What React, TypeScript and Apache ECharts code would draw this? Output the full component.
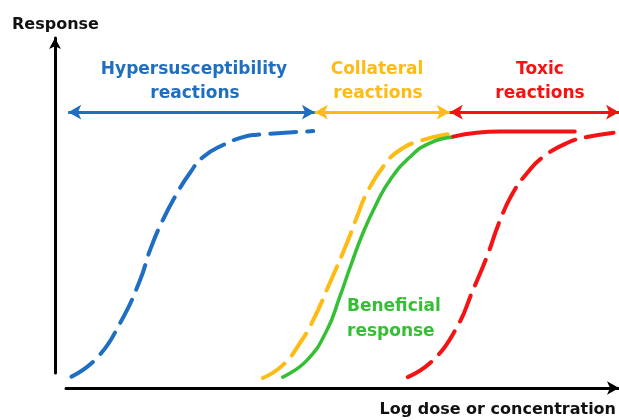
import React, { useEffect, useRef } from "react";
import * as echarts from "echarts";

// x = log dose (0..10), y = response (% of max)
const blueCurve: [number, number][] = [
  [0.1, -1.5], [0.56, 6.3], [0.98, 20.9], [1.34, 38.9], [1.52, 51.4], [1.75, 63.9],
  [2.01, 75.2], [2.24, 83.6], [2.48, 90.3], [2.84, 95.3], [3.2, 98.6], [3.42, 99.5], [4.47, 101.1],
];
const orangeCurve: [number, number][] = [
  [3.56, -2.1], [3.92, 3.3], [4.23, 12.5], [4.47, 22.1], [4.77, 37.6], [5.08, 54.3],
  [5.26, 65.2], [5.44, 75.2], [5.73, 86.1], [6.04, 93.2], [6.46, 97.4], [6.94, 99.9],
];
const greenCurve: [number, number][] = [
  [3.92, -1.7], [4.36, 5.4], [4.72, 18.0], [4.95, 31.8], [5.14, 44.3], [5.37, 58.5],
  [5.62, 71.0], [5.86, 80.7], [6.22, 90.3], [6.58, 96.1], [7.0, 98.6],
];
const redSolid: [number, number][] = [
  [7.0, 98.8], [7.85, 100.9], [9.2, 100.9],
];
const redDashed: [number, number][] = [
  [6.18, -1.7], [6.64, 5.4], [7.07, 19.2], [7.36, 34.7], [7.61, 48.5], [7.85, 63.9],
  [8.08, 75.2], [8.34, 83.6], [8.63, 90.3], [9.06, 96.1], [9.42, 98.6], [10.0, 100.7],
];
// range arrows: [start, end] on the dose axis, drawn at response level arrowLevel
const arrowLevel = 109;
const blueRange: [number, number] = [0.04, 4.5];
const orangeRange: [number, number] = [4.5, 6.94];
const redRange: [number, number] = [6.94, 10.0];

const BLUE = "#1f6ec2";
const ORANGE = "#fdbb14";
const GREEN = "#35bf35";
const RED = "#f51212";
const FONT = "DejaVu Sans";

function rangeArrow(r: [number, number], color: string) {
  return {
    silent: true,
    symbol: ["arrow", "arrow"],
    symbolSize: [11, 13],
    label: { show: false },
    lineStyle: { color, width: 3, type: "solid" },
    data: [[{ coord: [r[0], arrowLevel] }, { coord: [r[1], arrowLevel] }]],
  };
}

export default function App() {
  const ref = useRef<HTMLDivElement>(null);
  useEffect(() => {
    if (!ref.current) return;
    const chart = echarts.init(ref.current, null, { renderer: "svg" });
    const txt = (text: string, x: number, y: number, color: string, align = "center", size = 17) => ({
      type: "text",
      x,
      y,
      style: { text, fill: color, font: `bold ${size}px "${FONT}"`, textAlign: align, textVerticalAlign: "middle" },
    });
    chart.setOption({
      animation: false,
      grid: { left: 66, right: -2, top: 38, bottom: 47 },
      xAxis: {
        type: "value",
        min: 0,
        max: 10,
        offset: 15,
        axisLine: { show: true, onZero: false, symbol: ["none", "arrow"], symbolSize: [10, 12], lineStyle: { color: "#000", width: 3 } },
        axisTick: { show: false },
        axisLabel: { show: false },
        splitLine: { show: false },
      },
      yAxis: {
        type: "value",
        min: 0,
        max: 140,
        offset: 11,
        axisLine: { show: true, onZero: false, symbol: ["none", "arrow"], symbolSize: [9, 11], lineStyle: { color: "#000", width: 3 } },
        axisTick: { show: false },
        axisLabel: { show: false },
        splitLine: { show: false },
      },
      series: [
        {
          type: "line", data: blueCurve, smooth: 0.5, showSymbol: false, clip: false,
          lineStyle: { color: BLUE, width: 4, type: [26, 11], cap: "round" },
          markLine: rangeArrow(blueRange, BLUE),
        },
        {
          type: "line", data: orangeCurve, smooth: 0.5, showSymbol: false, clip: false,
          lineStyle: { color: ORANGE, width: 4, type: [26, 11], cap: "round" },
          markLine: rangeArrow(orangeRange, ORANGE),
        },
        {
          type: "line", data: greenCurve, smooth: 0.5, showSymbol: false, clip: false,
          lineStyle: { color: GREEN, width: 3.5, cap: "round" },
        },
        {
          type: "line", data: redDashed, smooth: 0.5, showSymbol: false, clip: false,
          lineStyle: { color: RED, width: 4, type: [28, 11], cap: "round" },
          markLine: rangeArrow(redRange, RED),
        },
        {
          type: "line", data: redSolid, smooth: 0.5, showSymbol: false, clip: false,
          lineStyle: { color: RED, width: 4, cap: "round" },
        },
      ],
      graphic: [
        txt("Response", 12, 23, "#111", "left", 16),
        txt("Log dose or concentration", 616, 408, "#111", "right", 16),
        txt("Hypersusceptibility", 194, 68, BLUE),
        txt("reactions", 195, 92, BLUE),
        txt("Collateral", 377, 68, ORANGE),
        txt("reactions", 378, 92, ORANGE),
        txt("Toxic", 540, 68, RED),
        txt("reactions", 540, 92, RED),
        txt("Beneficial", 347, 305, GREEN, "left"),
        txt("response", 347, 330, GREEN, "left"),
      ],
    });
    return () => chart.dispose();
  }, []);
  return <div ref={ref} style={{ position: "fixed", left: 0, top: 0, width: 619, height: 420 }} />;
}
